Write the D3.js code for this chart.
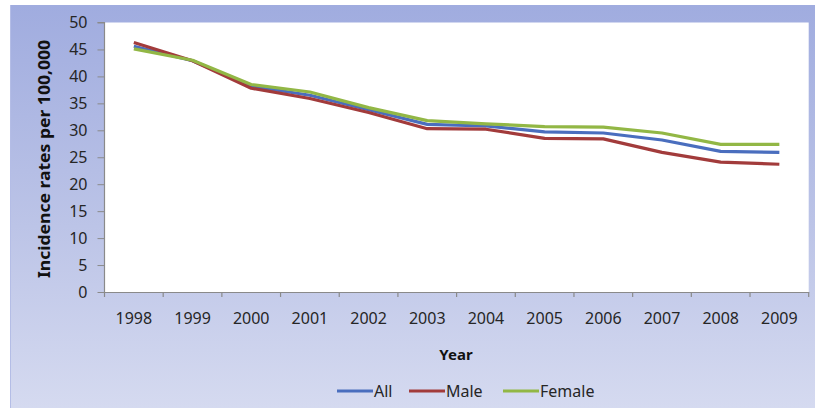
<!DOCTYPE html>
<html>
<head>
<meta charset="utf-8">
<script src="https://cdn.jsdelivr.net/npm/d3@7"></script>
<style>
  html, body { margin: 0; padding: 0; background: #ffffff; }
  svg { display: block; }
</style>
</head>
<body>
<svg id="chart" width="815" height="408"></svg>
<script>
// ---- data ----
const years = ["1998","1999","2000","2001","2002","2003","2004","2005","2006","2007","2008","2009"];
const allRates    = [45.6, 42.9, 38.2, 36.5, 33.8, 31.1, 30.8, 29.7, 29.5, 28.2, 26.1, 25.9];
const maleRates   = [46.3, 42.9, 37.8, 35.9, 33.3, 30.3, 30.2, 28.5, 28.4, 25.9, 24.1, 23.7];
const femaleRates = [45.1, 43.0, 38.5, 37.1, 34.2, 31.8, 31.2, 30.7, 30.6, 29.5, 27.4, 27.4];
const seriesNames = ["All", "Male", "Female"];
const seriesColors = ["#4a6ebe", "#a23b3b", "#92b745"];
const yTicks = [0, 5, 10, 15, 20, 25, 30, 35, 40, 45, 50];
const yTitle = "Incidence rates per 100,000";
const xTitle = "Year";

const series = [allRates, maleRates, femaleRates].map((vals, i) => ({
  name: seriesNames[i], color: seriesColors[i],
  values: vals.map((v, j) => ({ year: years[j], value: v }))
}));

const svg = d3.select("#chart");
const font = "'Noto Sans', 'Open Sans', sans-serif";

// background panel with gradient
const defs = svg.append("defs");
const grad = defs.append("linearGradient").attr("id", "bg").attr("x1", 0).attr("y1", 0).attr("x2", 0).attr("y2", 1);
grad.append("stop").attr("offset", "0%").attr("stop-color", "#a0acdf");
grad.append("stop").attr("offset", "55%").attr("stop-color", "#bcc4e7");
grad.append("stop").attr("offset", "100%").attr("stop-color", "#d5daf0");
svg.append("rect").attr("x", 10).attr("y", 5).attr("width", 805).attr("height", 403).attr("fill", "url(#bg)");
svg.append("line").attr("x1", 10.5).attr("x2", 10.5).attr("y1", 5).attr("y2", 408).attr("stroke", "#b4bde6").attr("stroke-width", 1);

// scales
const pLeft = 104.5, pRight = 808.7, pTop = 22.5, pBottom = 292;
const x = d3.scaleBand().domain(years).range([pLeft, pRight]).padding(0);
const y = d3.scaleLinear().domain([0, 50]).range([pBottom, pTop]);

// plot area
svg.append("rect").attr("x", pLeft).attr("y", pTop).attr("width", pRight - pLeft).attr("height", pBottom - pTop).attr("fill", "#ffffff");

// y axis
const yAxis = svg.append("g").attr("transform", `translate(${pLeft},0)`)
  .call(d3.axisLeft(y).tickValues(yTicks).tickSize(7).tickPadding(10).tickFormat(d3.format("d")));
yAxis.select(".domain").attr("stroke", "#8a8a8a").attr("stroke-width", 1.2).attr("d", `M-7,${pTop}H0V${pBottom}`);
yAxis.selectAll(".tick line").attr("stroke", "#8a8a8a");
yAxis.selectAll("text").attr("font-family", font).attr("font-size", 16).attr("fill", "#262626");

// x axis
const xAxis = svg.append("g").attr("transform", `translate(0,${pBottom})`)
  .call(d3.axisBottom(x).tickSize(0).tickPadding(21));
xAxis.select(".domain").attr("stroke", "#8a8a8a").attr("stroke-width", 1.2);
xAxis.selectAll("text").attr("font-family", font).attr("font-size", 16).attr("fill", "#262626");
// category boundary ticks
const boundaries = years.map(d => x(d)).concat([x(years[years.length - 1]) + x.bandwidth()]);
xAxis.selectAll(".bt").data(boundaries).enter().append("line")
  .attr("x1", d => d).attr("x2", d => d).attr("y1", 0).attr("y2", 5)
  .attr("stroke", "#8a8a8a").attr("stroke-width", 1.2);

// lines
const line = d3.line().x(d => x(d.year) + x.bandwidth() / 2).y(d => y(d.value));
svg.append("g").selectAll("path").data(series).enter().append("path")
  .attr("d", d => line(d.values)).attr("fill", "none")
  .attr("stroke", d => d.color).attr("stroke-width", 3.2)
  .attr("stroke-linejoin", "round").attr("stroke-linecap", "butt");

// axis titles
svg.append("text").attr("transform", "translate(50,159) rotate(-90)")
  .attr("text-anchor", "middle").attr("font-family", font).attr("font-weight", "bold")
  .attr("font-size", 16).attr("fill", "#111").attr("textLength", 238).attr("lengthAdjust", "spacingAndGlyphs")
  .text(yTitle);
svg.append("text").attr("x", 456).attr("y", 360).attr("text-anchor", "middle")
  .attr("font-family", font).attr("font-weight", "bold").attr("font-size", 15).attr("fill", "#111")
  .text(xTitle);

// legend
const legendX = [337, 409, 503];
const lg = svg.append("g").selectAll("g").data(series).enter().append("g")
  .attr("transform", (d, i) => `translate(${legendX[i]},391)`);
lg.append("line").attr("x1", 0).attr("x2", 36).attr("y1", 0).attr("y2", 0)
  .attr("stroke", d => d.color).attr("stroke-width", 3);
lg.append("text").attr("x", 37).attr("y", 5.5).attr("font-family", font).attr("font-size", 16)
  .attr("fill", "#262626").text(d => d.name);
</script>
</body>
</html>
